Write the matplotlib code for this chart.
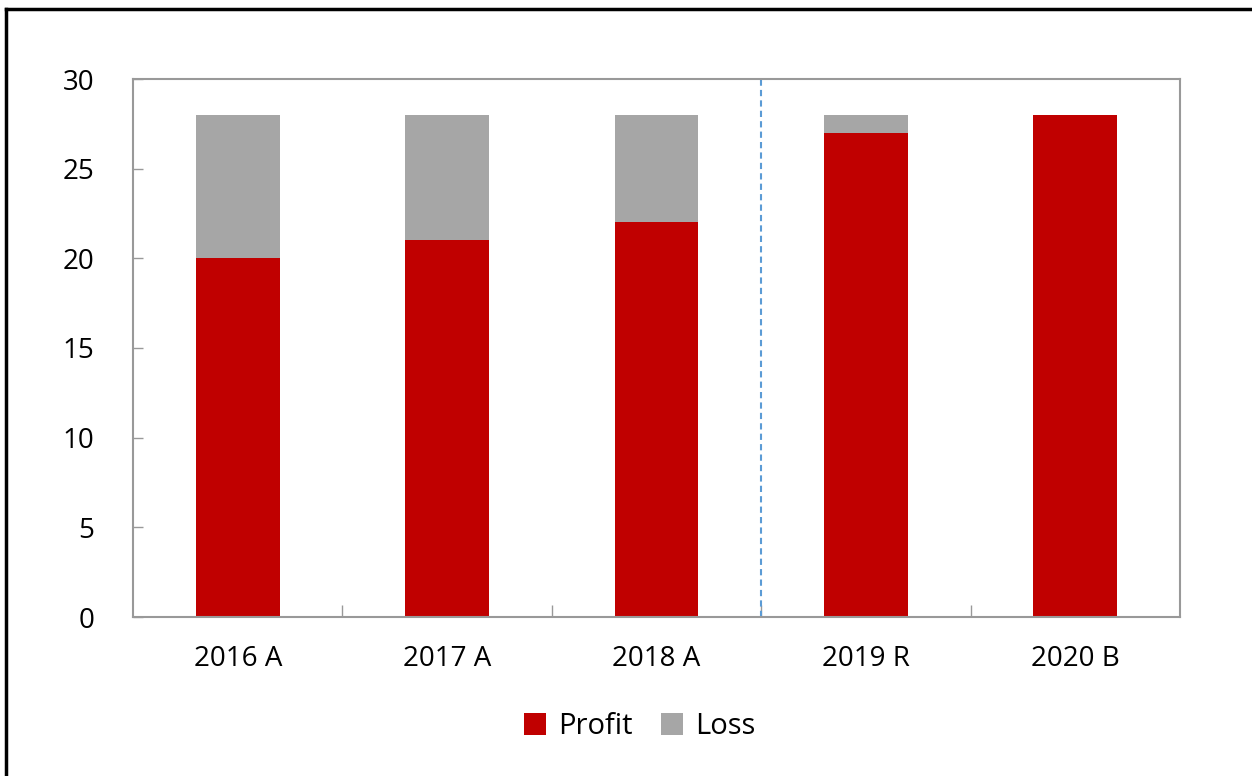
import numpy as np
import matplotlib.pyplot as plt
from matplotlib.lines import Line2D

plt.rcParams['font.family'] = ['Open Sans', 'DejaVu Sans']

years = ['2016 A', '2017 A', '2018 A', '2019 R', '2020 B']
profit = [20, 21, 22, 27, 28]
loss = [8, 7, 6, 1, 0]

fig = plt.figure(figsize=(12.52, 7.76), dpi=100)
ax = fig.add_axes([133 / 1252, 1 - 617 / 776, (1180 - 133) / 1252, (617 - 79) / 776])

x = np.arange(len(years))
ax.bar(x, profit, width=0.4, color='#c00000', label='Profit')
ax.bar(x, loss, width=0.4, bottom=profit, color='#a6a6a6', label='Loss')

# separator between actuals and forecast
ax.axvline(2.5, color='#5b9bd5', linestyle=(0, (3, 2)), linewidth=1.5)

ax.set_xlim(-0.5, len(years) - 0.5)
ax.set_ylim(0, 30)
ax.set_yticks(range(0, 31, 5))
ax.set_xticks(x)
ax.set_xticklabels(years)
ax.set_xticks(np.arange(0.5, len(years) - 1, 1), minor=True)

for s in ax.spines.values():
    s.set_color('#999999')
    s.set_linewidth(1.5)

ax.tick_params(axis='y', direction='in', length=7, color='#999999', width=1,
               labelsize=20, pad=28)
ax.tick_params(axis='x', which='major', length=0, labelsize=20, pad=20)
ax.tick_params(axis='x', which='minor', direction='in', length=9, color='#999999', width=1)

ax.legend(loc='upper center', bbox_to_anchor=(0.484, -0.128), ncol=2, frameon=False,
          fontsize=21, handlelength=0.75, handleheight=0.75, columnspacing=1.0,
          handletextpad=0.4)

# outer border (left and top visible)
fig.add_artist(Line2D([5.5 / 1252, 5.5 / 1252], [0, 1 - 8.5 / 776], color='black',
                      linewidth=2.5, transform=fig.transFigure))
fig.add_artist(Line2D([5.5 / 1252, 1], [1 - 8.5 / 776, 1 - 8.5 / 776], color='black',
                      linewidth=2.5, transform=fig.transFigure))

fig.savefig('out.png', dpi=100)
